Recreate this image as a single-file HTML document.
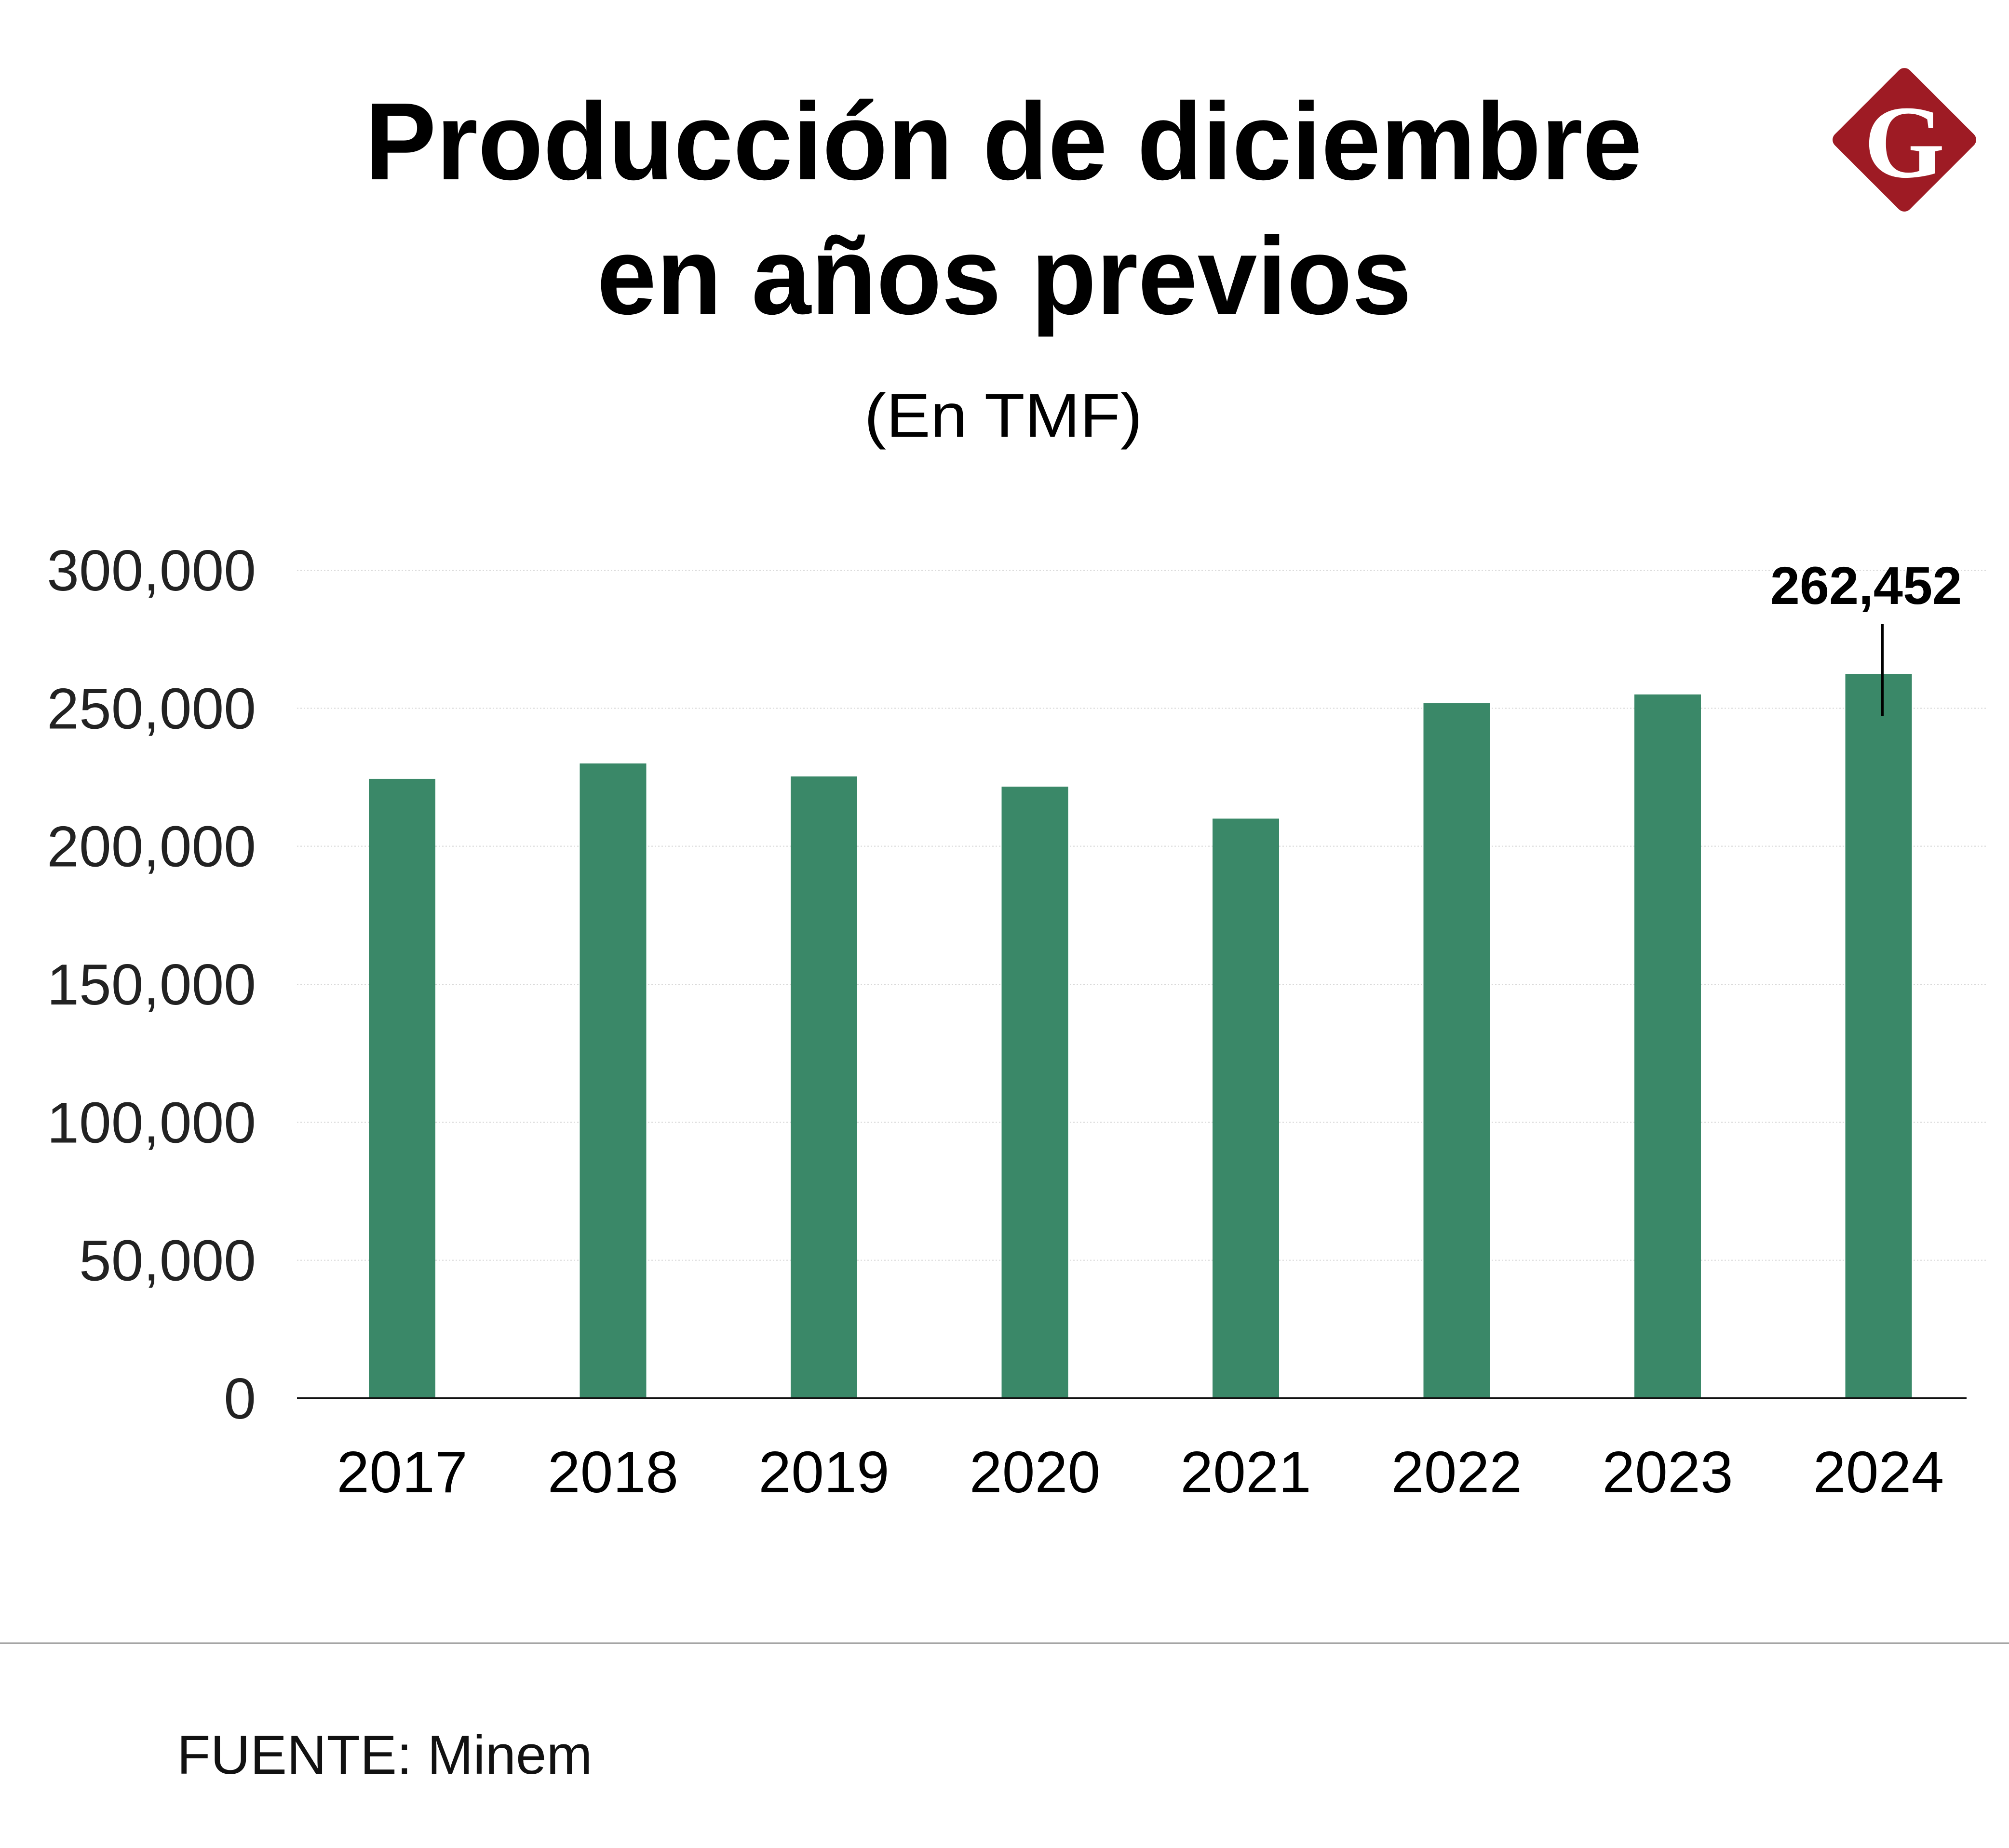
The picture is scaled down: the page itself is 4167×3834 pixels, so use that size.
<!DOCTYPE html>
<html><head><meta charset="utf-8"><style>
html,body{margin:0;padding:0;background:#fff;}
svg{display:block;}
</style></head><body>
<svg id="chart" width="4167" height="3834" viewBox="0 0 4167 3834" xmlns="http://www.w3.org/2000/svg">
<rect width="4167" height="3834" fill="#fff"/>
<text x="757" y="372" textLength="2649" lengthAdjust="spacingAndGlyphs" font-family="Liberation Sans, sans-serif" font-weight="bold" font-size="228" fill="#000">Producción de diciembre</text>
<text x="1238" y="651" textLength="1690" lengthAdjust="spacingAndGlyphs" font-family="Liberation Sans, sans-serif" font-weight="bold" font-size="228" fill="#000">en años previos</text>
<text x="2081" y="906" text-anchor="middle" textLength="577" lengthAdjust="spacingAndGlyphs" font-family="Liberation Sans, sans-serif" font-size="128" fill="#000">(En TMF)</text>
<g>
<rect x="3840" y="180" width="220" height="220" rx="16" fill="#9e1b24" transform="rotate(45 3950 290)"/>
<text x="3950" y="367" text-anchor="middle" font-family="Liberation Serif, serif" font-weight="bold" font-size="215" fill="#fff">G</text>
</g>
<g id="grid"></g>
<g id="bars"></g>
<g id="labels"></g>
<line x1="616" y1="2901" x2="4079" y2="2901" stroke="#111" stroke-width="4"/>
<line x1="0" y1="3409" x2="4167" y2="3409" stroke="#999" stroke-width="3"/>
<text x="367" y="3680" font-family="Liberation Sans, sans-serif" font-size="114" fill="#111">FUENTE: Minem</text>
</svg>
<script>
const categories = ["2017","2018","2019","2020","2021","2022","2023","2024"];
const values = [224400, 230000, 225300, 221600, 210000, 251800, 255000, 262452];
const yTicks = [0, 50000, 100000, 150000, 200000, 250000, 300000];
const tickLabels = ["0","50,000","100,000","150,000","200,000","250,000","300,000"];
const annotationIndex = 7;
const annotationText = "262,452";

const NS = "http://www.w3.org/2000/svg";
const y0 = 2901, yTop = 1183, yMax = 300000;
function yScale(v){ return y0 - v / yMax * (y0 - yTop); }
const x0 = 834, step = 437.5, barW = 138;
function xScale(i){ return x0 + i * step; }
function mk(tag, attrs, parent){ const e = document.createElementNS(NS, tag); for (const k in attrs) e.setAttribute(k, attrs[k]); parent.appendChild(e); return e; }

const grid = document.getElementById('grid');
const bars = document.getElementById('bars');
const labels = document.getElementById('labels');

yTicks.forEach((t, i) => {
  const y = yScale(t);
  if (t > 0) {
    const l = mk('line', {x1:616, x2:4120, y1:y, y2:y, stroke:'#d8d8d8', 'stroke-width':2, 'stroke-dasharray':'3 4'}, grid);
    
    
  }
  const tx = mk('text', {x:531, y:y + 42, 'text-anchor':'end', 'font-family':'Liberation Sans, sans-serif', 'font-size':120, fill:'#222'}, labels);
  tx.textContent = tickLabels[i];
  
  
});

categories.forEach((c, i) => {
  const cx = xScale(i);
  const top = yScale(values[i]);
  const r = mk('rect', {x:cx - barW/2, y:top, width:barW, height:y0 - top, fill:'#3a8868'}, bars);
  
  
  const tx = mk('text', {x:cx, y:3096, 'text-anchor':'middle', 'font-family':'Liberation Sans, sans-serif', 'font-size':122, fill:'#000'}, labels);
  tx.textContent = c;
  
  
});

const ax = xScale(annotationIndex) + 8;
const at = yScale(values[annotationIndex]);
const al = mk('line', {x1:ax, x2:ax, y1:at - 103, y2:at + 87, stroke:'#000', 'stroke-width':5}, labels);


const atx = mk('text', {x:ax - 34, y:at - 145, 'text-anchor':'middle', 'font-family':'Liberation Sans, sans-serif', 'font-weight':'bold', 'font-size':110, fill:'#000'}, labels);
atx.textContent = annotationText;


</script>
</body></html>
